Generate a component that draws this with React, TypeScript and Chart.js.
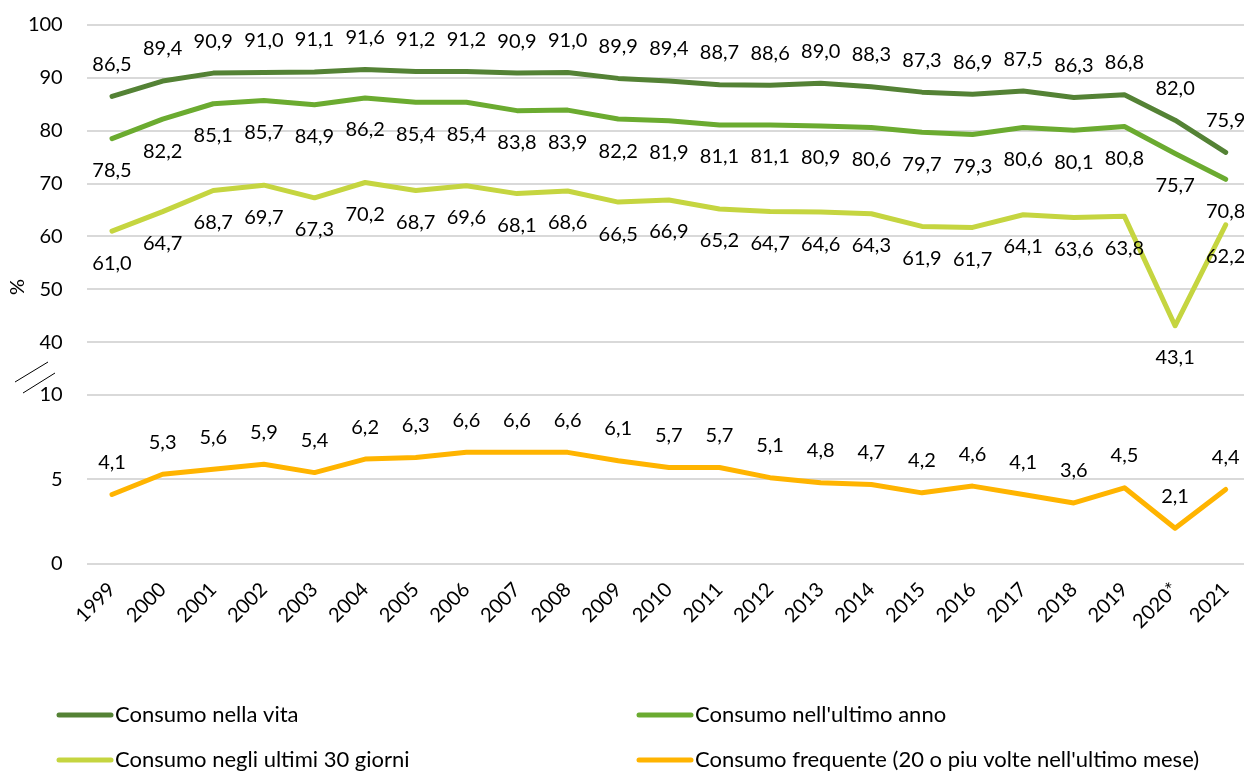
import React, { useEffect, useRef } from 'react';
import { Chart, registerables } from 'chart.js';

Chart.register(...registerables);

const years = ['1999', '2000', '2001', '2002', '2003', '2004', '2005', '2006', '2007', '2008', '2009', '2010', '2011', '2012', '2013', '2014', '2015', '2016', '2017', '2018', '2019', '2020*', '2021'];
const lifetime = [86.5, 89.4, 90.9, 91.0, 91.1, 91.6, 91.2, 91.2, 90.9, 91.0, 89.9, 89.4, 88.7, 88.6, 89.0, 88.3, 87.3, 86.9, 87.5, 86.3, 86.8, 82.0, 75.9];
const lastYear = [78.5, 82.2, 85.1, 85.7, 84.9, 86.2, 85.4, 85.4, 83.8, 83.9, 82.2, 81.9, 81.1, 81.1, 80.9, 80.6, 79.7, 79.3, 80.6, 80.1, 80.8, 75.7, 70.8];
const last30Days = [61.0, 64.7, 68.7, 69.7, 67.3, 70.2, 68.7, 69.6, 68.1, 68.6, 66.5, 66.9, 65.2, 64.7, 64.6, 64.3, 61.9, 61.7, 64.1, 63.6, 63.8, 43.1, 62.2];
const frequent = [4.1, 5.3, 5.6, 5.9, 5.4, 6.2, 6.3, 6.6, 6.6, 6.6, 6.1, 5.7, 5.7, 5.1, 4.8, 4.7, 4.2, 4.6, 4.1, 3.6, 4.5, 2.1, 4.4];
const seriesNames = [
  'Consumo nella vita',
  "Consumo nell'ultimo anno",
  'Consumo negli ultimi 30 giorni',
  "Consumo frequente (20 o piu volte nell'ultimo mese)",
];
const upperTicksRange = [30, 100];
const lowerTicksRange = [0, 10];
const axisTitle = '%';

const COLORS = ['#548235', '#6BAB30', '#C5D540', '#FFB400'];
const FONT = 'Lato';

const fmt = (v: number) => v.toFixed(1).replace('.', ',');

export default function App() {
  const ref = useRef<HTMLCanvasElement>(null);

  useEffect(() => {
    const canvas = ref.current;
    if (!canvas) return;

    const labelPos = [-1, 1, 1, -1];

    const valueLabels = {
      id: 'valueLabels',
      afterDatasetsDraw(chart: any) {
        const ctx = chart.ctx;
        ctx.save();
        ctx.font = `20px ${FONT}`;
        ctx.fillStyle = '#000';
        ctx.textAlign = 'center';
        ctx.textBaseline = 'middle';
        chart.data.datasets.forEach((ds: any, i: number) => {
          const meta = chart.getDatasetMeta(i);
          meta.data.forEach((pt: any, j: number) => {
            ctx.fillText(fmt(ds.data[j]), pt.x, pt.y + labelPos[i] * 32);
          });
        });
        ctx.restore();
      },
    };

    const extras = {
      id: 'extras',
      afterDraw(chart: any) {
        const ctx = chart.ctx;
        ctx.save();
        ctx.font = `20px ${FONT}`;
        ctx.fillStyle = '#000';
        ctx.textAlign = 'center';
        ctx.textBaseline = 'middle';
        ctx.translate(18, 287);
        ctx.rotate(-Math.PI / 2);
        ctx.fillText(axisTitle, 0, 0);
        ctx.restore();

        ctx.save();
        ctx.strokeStyle = '#000';
        ctx.lineWidth = 1;
        ctx.beginPath();
        ctx.moveTo(15, 382);
        ctx.lineTo(48, 362);
        ctx.moveTo(23, 393);
        ctx.lineTo(55, 373);
        ctx.stroke();
        ctx.restore();

        const pos = [
          [57, 715],
          [637, 715],
          [57, 760],
          [637, 760],
        ];
        ctx.save();
        ctx.font = `22px ${FONT}`;
        ctx.textAlign = 'left';
        ctx.textBaseline = 'middle';
        chart.data.datasets.forEach((ds: any, i: number) => {
          const [x, y] = pos[i];
          ctx.strokeStyle = ds.borderColor;
          ctx.lineWidth = 5;
          ctx.lineCap = 'round';
          ctx.beginPath();
          ctx.moveTo(x + 2, y);
          ctx.lineTo(x + 54, y);
          ctx.stroke();
          ctx.fillStyle = '#000';
          ctx.fillText(ds.label, x + 58, y);
        });
        ctx.restore();
      },
    };

    const lineStyle = {
      borderWidth: 5,
      pointRadius: 0,
      pointHoverRadius: 0,
      tension: 0,
      borderCapStyle: 'round',
      borderJoinStyle: 'round',
      fill: false,
    };

    const fitY = (s: any) => {
      s.width = 86.7;
      s.paddingTop = 0;
      s.paddingBottom = 0;
    };

    const chart = new Chart(canvas, {
      type: 'line',
      data: {
        labels: years,
        datasets: [
          { ...lineStyle, label: seriesNames[0], data: lifetime, borderColor: COLORS[0], backgroundColor: COLORS[0], yAxisID: 'y' },
          { ...lineStyle, label: seriesNames[1], data: lastYear, borderColor: COLORS[1], backgroundColor: COLORS[1], yAxisID: 'y' },
          { ...lineStyle, label: seriesNames[2], data: last30Days, borderColor: COLORS[2], backgroundColor: COLORS[2], yAxisID: 'y' },
          { ...lineStyle, label: seriesNames[3], data: frequent, borderColor: COLORS[3], backgroundColor: COLORS[3], yAxisID: 'y2' },
        ],
      } as any,
      options: {
        responsive: false,
        animation: false,
        layout: { padding: { top: 25, bottom: 127.3, left: 0, right: 0 } },
        plugins: { legend: { display: false }, tooltip: { enabled: false } },
        scales: {
          x: {
            type: 'category',
            offset: true,
            grid: { display: false },
            border: { display: false },
            ticks: {
              color: '#000',
              font: { family: FONT, size: 20 },
              minRotation: 45,
              maxRotation: 45,
              autoSkip: false,
              padding: 6,
            },
            afterFit: (s: any) => {
              s.height = 80;
            },
          },
          y: {
            type: 'linear',
            position: 'left',
            stack: 'v',
            stackWeight: 370,
            weight: 1,
            min: upperTicksRange[0],
            max: upperTicksRange[1],
            ticks: {
              stepSize: 10,
              padding: 24,
              color: '#000',
              font: { family: FONT, size: 20 },
              callback: (v: any) => (v === upperTicksRange[0] ? '' : String(v)),
            },
            grid: {
              color: (c: any) => (c.tick && c.tick.value === upperTicksRange[0] ? 'rgba(0,0,0,0)' : '#d9d9d9'),
              lineWidth: 2,
              drawTicks: false,
            },
            border: { display: false },
            afterFit: fitY,
          },
          y2: {
            type: 'linear',
            position: 'left',
            stack: 'v',
            stackWeight: 168.7,
            weight: 0,
            min: lowerTicksRange[0],
            max: lowerTicksRange[1],
            ticks: {
              stepSize: 5,
              padding: 24,
              color: '#000',
              font: { family: FONT, size: 20 },
            },
            grid: { color: '#d9d9d9', lineWidth: 2, drawTicks: false },
            border: { display: false },
            afterFit: fitY,
          },
        },
      } as any,
      plugins: [valueLabels, extras],
    });

    return () => chart.destroy();
  }, []);

  return (
    <div
      style={{
        position: 'fixed',
        left: 0,
        top: 0,
        width: 1244,
        height: 771,
        overflow: 'hidden',
        background: '#fff',
      }}
    >
      <canvas ref={ref} width={1251} height={771} style={{ display: 'block', width: 1251, height: 771 }} />
    </div>
  );
}
